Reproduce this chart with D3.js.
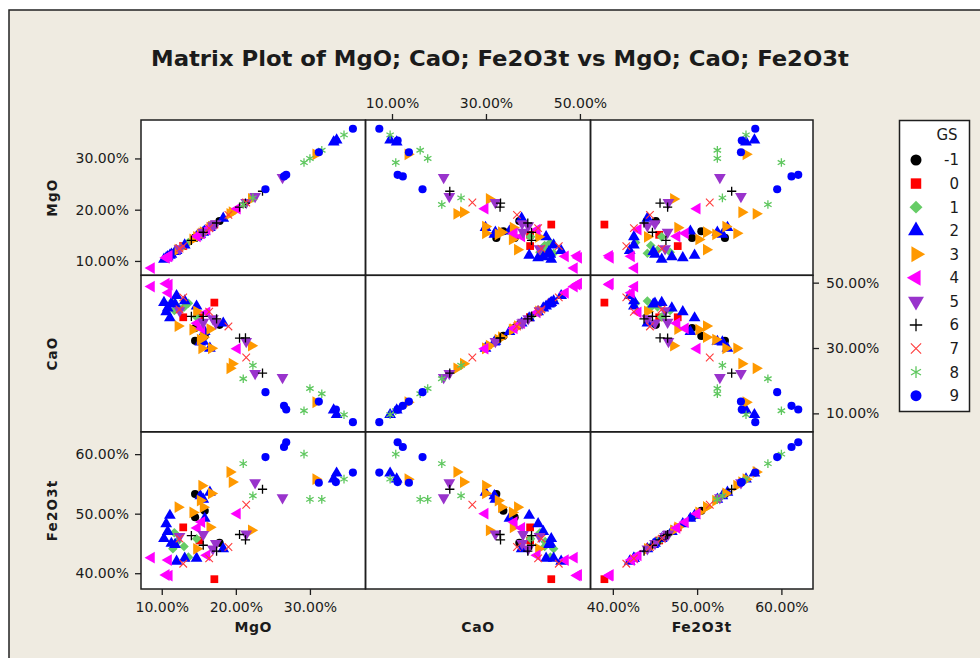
<!DOCTYPE html>
<html>
<head>
<meta charset="utf-8">
<script src="https://cdn.jsdelivr.net/npm/d3@7"></script>
<style>
  body { margin: 0; background: #fff; }
  text { font-family: "DejaVu Sans", Verdana, sans-serif; fill: #1b1b1b; }
</style>
</head>
<body>
<svg id="chart" width="980" height="658"></svg>
<script>
// variables and groups
const variables = ["MgO", "CaO", "Fe2O3t"];
const groups = [-1, 0, 1, 2, 3, 4, 5, 6, 7, 8, 9];
const mgoTicks = [10, 20, 30];
const caoTicks = [10, 30, 50];
const feTicks = [40, 50, 60];

// one entry per sample (values in %)
const gs = [
  -1, -1, -1, -1,
  0, 0, 0,
  1, 1, 1, 1, 1, 1,
  2, 2, 2, 2, 2, 2, 2, 2, 2, 2, 2, 2, 2, 2, 2, 2,
  3, 3, 3, 3, 3, 3, 3, 3, 3, 3, 3, 3,
  4, 4, 4, 4, 4, 4, 4, 4,
  5, 5, 5, 5, 5, 5, 5,
  6, 6, 6, 6, 6, 6,
  7, 7, 7, 7, 7,
  8, 8, 8, 8, 8, 8,
  9, 9, 9, 9, 9, 9
];
const mgo = [
  14.5, 14.5, 15.8, 17.8,
  12.9, 17.1, 15.1,
  11.5, 14.7, 11.7, 13.6, 12.1, 13.0,
  16.5, 15.6, 11.1, 10.6, 10.3, 15.8, 14.7, 13.1, 18.3, 33.2, 33.6, 10.8, 11.3, 15.2, 12.0, 11.8,
  19.2, 19.5, 15.4, 16.7, 15.6, 12.2, 16.5, 14.7, 22.1, 30.8, 15.2, 14.2,
  8.6, 10.9, 10.6, 11.0, 15.4, 16.1, 20.2, 14.8,
  26.3, 22.6, 21.4, 16.9, 15.6, 12.4, 17.3,
  23.6, 20.5, 21.3, 17.4, 15.6, 14.0,
  12.4, 12.9, 16.4, 19.0, 21.4,
  21.0, 29.2, 34.6, 30.0, 31.6, 22.3,
  26.8, 26.5, 24.0, 31.2, 35.8, 33.5
];
const cao = [
  32.2, 36.1, 33.7, 37.1,
  39.4, 43.9, 39.4,
  44.4, 39.5, 41.5, 43.7, 42.6, 42.5,
  29.9, 32.0, 39.2, 41.1, 43.9, 35.0, 42.8, 44.4, 37.6, 11.0, 9.6, 42.2, 43.7, 31.8, 46.0, 43.4,
  23.8, 25.2, 29.9, 29.9, 33.3, 36.7, 35.8, 41.2, 30.7, 13.4, 32.6, 35.6,
  48.8, 46.9, 49.7, 49.4, 36.0, 40.9, 29.8, 37.6,
  21.0, 22.2, 32.0, 39.0, 37.9, 41.4, 37.7,
  22.3, 33.0, 33.1, 38.9, 39.7, 39.7,
  41.8, 45.5, 41.1, 36.6, 27.1,
  20.6, 10.8, 9.6, 17.6, 16.0, 24.7,
  11.2, 12.3, 16.5, 13.6, 7.3, 11.2
];
const fe2o3t = [
  53.3, 49.4, 50.5, 45.1,
  47.7, 39.0, 45.5,
  44.1, 45.8, 46.8, 42.7, 45.3, 44.5,
  53.6, 52.4, 49.7, 48.3, 45.8, 49.2, 42.5, 42.5, 44.1, 55.8, 56.8, 47.0, 45.0, 53.0, 42.0, 44.8,
  57.0, 55.3, 54.7, 53.4, 51.1, 51.1, 47.7, 44.1, 47.2, 55.8, 52.2, 50.2,
  42.6, 42.2, 39.7, 39.6, 48.6, 43.0, 50.0, 47.6,
  52.7, 55.2, 46.6, 44.1, 46.5, 46.2, 45.0,
  54.1, 46.5, 45.6, 43.7, 44.7, 46.3,
  45.8, 41.6, 42.5, 44.4, 51.5,
  58.4, 60.0, 55.8, 52.4, 52.4, 53.0,
  62.0, 61.2, 59.5, 55.2, 56.9, 55.3
];

// marker style per group
const groupShapes = ["circle", "square", "diamond", "up", "right", "left", "down", "plus", "cross", "star", "circle"];
const groupColors = ["#000000", "#ff0000", "#66cc66", "#0000ff", "#ff9900", "#ff00ff", "#9933cc", "#000000", "#ff3b3b", "#5fc75f", "#0000ff"];

const values = [mgo, cao, fe2o3t];
const ticks = [mgoTicks, caoTicks, feTicks];
const domains = [[7.2, 37.5], [4.36, 52.25], [37.35, 63.75]];

const cols = [141, 365.5, 590.5, 813];
const rows = [120, 275.3, 431.8, 589];

const svg = d3.select("#chart");

// background + frame
svg.append("rect").attr("width", 980).attr("height", 658).attr("fill", "#fff");
svg.append("rect")
  .attr("x", 9).attr("y", 10).attr("width", 990).attr("height", 670)
  .attr("fill", "#efebe1").attr("stroke", "#222").attr("stroke-width", 1.5);

svg.append("text")
  .attr("x", 500).attr("y", 66)
  .attr("text-anchor", "middle")
  .attr("font-size", "22px").attr("font-weight", "bold")
  .style("font-family", '"DejaVu Sans Condensed", "DejaVu Sans", sans-serif')
  .attr("textLength", 698).attr("lengthAdjust", "spacingAndGlyphs")
  .text("Matrix Plot of MgO; CaO; Fe2O3t vs MgO; CaO; Fe2O3t");

function markerPath(shape, k) {
  const r = 1 * k;
  switch (shape) {
    case "circle": return d3.symbol(d3.symbolCircle, 52 * k * k)();
    case "square": return d3.symbol(d3.symbolSquare, 60 * k * k)();
    case "diamond": return d3.symbol(d3.symbolSquare, 46 * k * k)();
    case "up": case "right": case "left": case "down":
      return d3.symbol(d3.symbolTriangle, 60 * k * k)();
    case "plus": return `M${-4.6 * r},0H${4.6 * r}M0,${-4.6 * r}V${4.6 * r}`;
    case "cross": return `M${-3.8 * r},${-3.8 * r}L${3.8 * r},${3.8 * r}M${-3.8 * r},${3.8 * r}L${3.8 * r},${-3.8 * r}`;
    case "star": {
      const a = 4.3 * r, b = 3.7 * r, c = 2.15 * r;
      return `M0,${-a}V${a}M${-b},${-c}L${b},${c}M${-b},${c}L${b},${-c}`;
    }
  }
}
const rotation = { diamond: 45, right: 90, left: -90, down: 180 };
const stroked = s => s === "plus" || s === "cross" || s === "star";

function drawMarker(sel, gi, k) {
  const shape = groupShapes[gi];
  const color = groupColors[gi];
  sel.attr("d", markerPath(shape, k))
    .attr("fill", stroked(shape) ? "none" : color)
    .attr("stroke", stroked(shape) ? color : "none")
    .attr("stroke-width", shape === "cross" ? 1.1 : 1.3);
}

const scaleX = j => d3.scaleLinear().domain(domains[j]).range([cols[j], cols[j + 1]]);
const scaleY = i => d3.scaleLinear().domain(domains[i]).range([rows[i + 1], rows[i]]);

const idx = d3.range(gs.length);

// panels
for (let i = 0; i < 3; i++) {
  for (let j = 0; j < 3; j++) {
    const x = scaleX(j), y = scaleY(i);
    const g = svg.append("g");
    g.append("rect")
      .attr("x", cols[j]).attr("y", rows[i])
      .attr("width", cols[j + 1] - cols[j]).attr("height", rows[i + 1] - rows[i])
      .attr("fill", "#fff");
    g.selectAll("path.pt")
      .data(idx)
      .join("path")
      .attr("class", "pt")
      .each(function (k) { drawMarker(d3.select(this), groups.indexOf(gs[k]), 1); })
      .attr("transform", k => {
        const s = groupShapes[groups.indexOf(gs[k])];
        return `translate(${x(values[j][k])},${y(values[i][k])}) rotate(${rotation[s] || 0})`;
      });
  }
}

// panel borders
for (let i = 0; i < 3; i++) {
  for (let j = 0; j < 3; j++) {
    svg.append("rect")
      .attr("x", cols[j]).attr("y", rows[i])
      .attr("width", cols[j + 1] - cols[j]).attr("height", rows[i + 1] - rows[i])
      .attr("fill", "none").attr("stroke", "#1e1e1e").attr("stroke-width", 1.5);
  }
}

const fmt = d => d.toFixed(2) + "%";
function styleAxis(g) {
  g.select(".domain").remove();
  g.selectAll(".tick line").attr("stroke", "#1e1e1e").attr("stroke-width", 1.3);
  g.selectAll(".tick text").attr("font-size", "14px").attr("fill", "#1b1b1b")
    .style("font-family", '"DejaVu Sans", Verdana, sans-serif');
}

// column axes: bottom, top, bottom
svg.append("g").attr("transform", `translate(0,${rows[3]})`)
  .call(d3.axisBottom(scaleX(0)).tickValues(ticks[0]).tickFormat(fmt).tickSize(6).tickPadding(7))
  .call(styleAxis);
svg.append("g").attr("transform", `translate(0,${rows[0]})`)
  .call(d3.axisTop(scaleX(1)).tickValues(ticks[1]).tickFormat(fmt).tickSize(6).tickPadding(6))
  .call(styleAxis);
svg.append("g").attr("transform", `translate(0,${rows[3]})`)
  .call(d3.axisBottom(scaleX(2)).tickValues(ticks[2]).tickFormat(fmt).tickSize(6).tickPadding(7))
  .call(styleAxis);

// row axes: left, right, left
svg.append("g").attr("transform", `translate(${cols[0]},0)`)
  .call(d3.axisLeft(scaleY(0)).tickValues(ticks[0]).tickFormat(fmt).tickSize(6).tickPadding(6))
  .call(styleAxis);
svg.append("g").attr("transform", `translate(${cols[3]},0)`)
  .call(d3.axisRight(scaleY(1)).tickValues(ticks[1]).tickFormat(fmt).tickSize(6).tickPadding(7))
  .call(styleAxis);
svg.append("g").attr("transform", `translate(${cols[0]},0)`)
  .call(d3.axisLeft(scaleY(2)).tickValues(ticks[2]).tickFormat(fmt).tickSize(6).tickPadding(6))
  .call(styleAxis);

// variable names
variables.forEach((v, j) => {
  svg.append("text")
    .attr("x", (cols[j] + cols[j + 1]) / 2).attr("y", 632)
    .attr("text-anchor", "middle")
    .attr("font-size", "14px").attr("font-weight", "bold")
    .attr("letter-spacing", "0.6px")
    .text(v);
  svg.append("text")
    .attr("transform", `translate(52,${(rows[j] + rows[j + 1]) / 2}) rotate(-90)`)
    .attr("text-anchor", "middle").attr("dy", "0.35em")
    .attr("font-size", "13.5px").attr("font-weight", "bold")
    .attr("letter-spacing", "1.2px")
    .text(v);
});

// legend
const lg = svg.append("g");
lg.append("rect")
  .attr("x", 899.5).attr("y", 120.5).attr("width", 70).attr("height", 291)
  .attr("fill", "#fff").attr("stroke", "#1e1e1e").attr("stroke-width", 1.5);
lg.append("text")
  .attr("x", 947).attr("y", 140).attr("text-anchor", "middle")
  .attr("font-size", "15px").text("GS");
groups.forEach((grp, gi) => {
  const yy = 160 + gi * 23.57;
  const shape = groupShapes[gi];
  lg.append("path")
    .call(drawMarker, gi, 1.35)
    .attr("transform", `translate(916,${yy}) rotate(${rotation[shape] || 0})`);
  lg.append("text")
    .attr("x", 959).attr("y", yy).attr("dy", "0.36em")
    .attr("text-anchor", "end")
    .attr("font-size", "15px").text(grp);
});
</script>
</body>
</html>
